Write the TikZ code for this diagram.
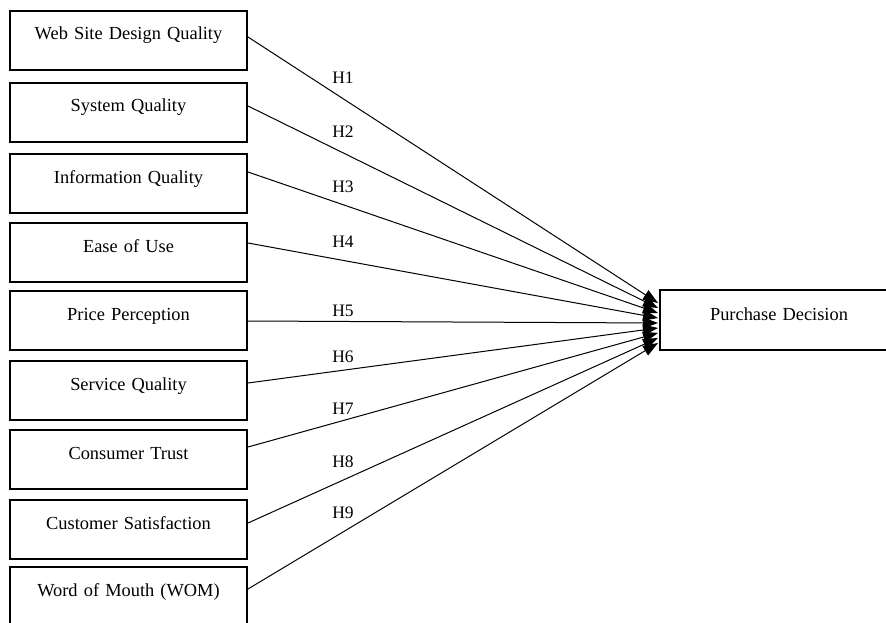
\documentclass[tikz,border=0pt]{standalone}
\usepackage{fontspec}
\setmainfont{Liberation Serif}
\usetikzlibrary{arrows.meta,calc}
\begin{document}
\begin{tikzpicture}[x=1pt,y=-1pt,
  varbox/.style={draw, line width=2pt, anchor=north west, inner xsep=0pt, inner ysep=0pt,
    text width=237pt, align=center, text height=29pt, text depth=30pt,
    font=\fontsize{18.4}{21}\selectfont},
  hyplabel/.style={font=\fontsize{17.5}{20}\selectfont, inner sep=0pt},
  conn/.style={line width=1pt, -{Triangle[length=15pt,width=11pt]}}]
\clip (0,0) rectangle (886,623);
\node[varbox] (b1) at (9,10)  {Web Site Design Quality};
\node[varbox] (b2) at (9,82)  {System Quality};
\node[varbox] (b3) at (9,153) {Information Quality};
\node[varbox] (b4) at (9,222) {Ease of Use};
\node[varbox] (b5) at (9,290) {Price Perception};
\node[varbox] (b6) at (9,360) {Service Quality};
\node[varbox] (b7) at (9,429) {Consumer Trust};
\node[varbox] (b8) at (9,499) {Customer Satisfaction};
\node[varbox] (b9) at (9,566) {Word of Mouth (WOM)};
\node[varbox, text width=238pt, text height=30pt, text depth=30pt] (pd) at (659,289) {Purchase Decision};
\node[hyplabel] (h1) at (343,78)  {H1};
\node[hyplabel] (h2) at (343,132) {H2};
\node[hyplabel] (h3) at (343,187) {H3};
\node[hyplabel] (h4) at (343,242) {H4};
\node[hyplabel] (h5) at (343,311) {H5};
\node[hyplabel] (h6) at (343,357) {H6};
\node[hyplabel] (h7) at (343,409) {H7};
\node[hyplabel] (h8) at (343,462) {H8};
\node[hyplabel] (h9) at (343,513) {H9};
\draw[conn] ($(b1.north east)+(0,27)$) -- ($(pd.north west)+(-1,14)$);
\draw[conn] ($(b2.north east)+(0,24)$) -- ($(pd.north west)+(-1,19)$);
\draw[conn] ($(b3.north east)+(0,19)$) -- ($(pd.north west)+(-1,24)$);
\draw[conn] ($(b4.north east)+(0,21)$) -- ($(pd.north west)+(-1,29)$);
\draw[conn] ($(b5.north east)+(0,31)$) -- ($(pd.north west)+(-1,34)$);
\draw[conn] ($(b6.north east)+(0,23)$) -- ($(pd.north west)+(-1,39)$);
\draw[conn] ($(b7.north east)+(0,18)$) -- ($(pd.north west)+(-1,44)$);
\draw[conn] ($(b8.north east)+(0,24)$) -- ($(pd.north west)+(-1,49)$);
\draw[conn] ($(b9.north east)+(0,23)$) -- ($(pd.north west)+(-1,54)$);
\end{tikzpicture}
\end{document}
